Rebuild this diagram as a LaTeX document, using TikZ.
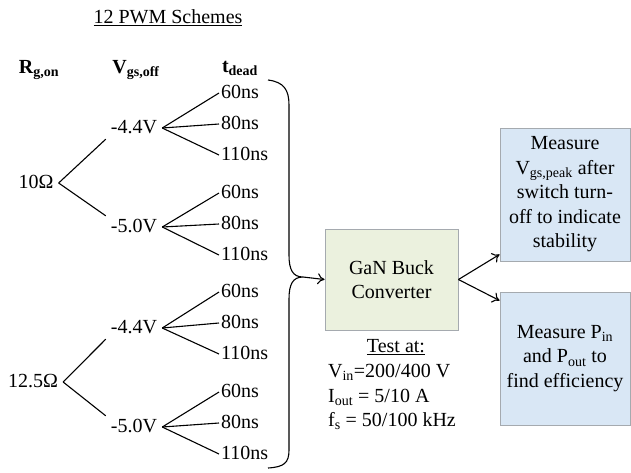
\documentclass[tikz,border=0pt]{standalone}
\usepackage{fontspec}
\setmainfont{Liberation Serif}
\usetikzlibrary{positioning,arrows.meta}

\definecolor{boxgreen}{RGB}{235,241,222}
\definecolor{boxblue}{RGB}{217,231,245}
\definecolor{boxline}{RGB}{165,170,175}

\begin{document}
\begin{tikzpicture}[x=1pt,y=-1pt,
        font=\fontsize{20}{24.5}\selectfont,
        lbl/.style={inner sep=2pt, text height=14pt, text depth=4pt},
        branch/.style={line width=1.1pt},
        box/.style={draw=boxline, line width=0.9pt, align=center, inner sep=0pt},
        >={To[length=7pt,width=11pt]}]
        \useasboundingbox (0,0) rectangle (631,472);

        % Title and column heads
        \node (title) at (168,18) {\underline{12 PWM Schemes}};
        \node[lbl] (hR) at (39,68) {\textbf{R\textsubscript{g,on}}};
        \node[lbl] (hV) at (136,68) {\textbf{V\textsubscript{gs,off}}};
        \node[lbl] (hT) at (240,67) {\textbf{t\textsubscript{dead}}};

        % Gate resistances
        \node[lbl] (rA) at (36,183) {10Ω};
        \node[lbl] (rB) at (33,382) {12.5Ω};

        % Turn-off voltages
        \node[lbl] (v1) at (134,128) {-4.4V};
        \node[lbl] (v2) at (134,227) {-5.0V};
        \node[lbl] (v3) at (134,328) {-4.4V};
        \node[lbl] (v4) at (134,427) {-5.0V};

        % Dead times
        \foreach \v/\y in {1/93,2/193,3/292,4/392} {
            \node[lbl, anchor=west] (t\v a) at (219,\y) {60ns};
            \node[lbl, anchor=west] (t\v b) at (219,\y+31) {80ns};
            \node[lbl, anchor=west] (t\v c) at (219,\y+62) {110ns};
            \draw[branch] ([xshift=3pt]v\v.east) -- (t\v a.west);
            \draw[branch] ([xshift=3pt]v\v.east) -- (t\v b.west);
            \draw[branch] ([xshift=3pt]v\v.east) -- (t\v c.west);
        }

        % Branches from resistances
        \draw[branch] ([xshift=3pt]rA.east) -- ([xshift=-3pt]v1.south west);
        \draw[branch] ([xshift=3pt]rA.east) -- ([xshift=-3pt]v2.north west);
        \draw[branch] ([xshift=3pt]rB.east) -- ([xshift=-3pt]v3.south west);
        \draw[branch] ([xshift=3pt]rB.east) -- ([xshift=-3pt]v4.north west);

        % Brace round all schemes
        \coordinate (tip) at (303,277);
        \draw[branch] (268,80) .. controls (284,82) and (289,90) .. (289,105)
            -- (289,255) .. controls (289,270) and (293,277) .. (tip)
            .. controls (293,277) and (289,284) .. (289,299)
            -- (289,450) .. controls (289,463) and (284,467) .. (268,468);

        % Converter and measurements
        \node[box, fill=boxgreen, minimum width=133, minimum height=101] (gan) at (391.5,279.5) {GaN Buck\\Converter};
        \node[box, fill=boxblue, minimum width=130, minimum height=133] (m1) at (565,194.5)
            {Measure\\V\textsubscript{gs,peak} after\\switch turn-\\off to indicate\\stability};
        \node[box, fill=boxblue, minimum width=130, minimum height=133] (m2) at (565,358.5)
            {Measure P\textsubscript{in}\\and P\textsubscript{out} to\\find efficiency};

        % Test conditions
        \node (testhead) at (396,347) {\underline{Test at:}};
        \node[align=left] (testvals) at (392,397)
            {V\textsubscript{in}=200/400 V\\I\textsubscript{out} = 5/10 A\\f\textsubscript{s} = 50/100 kHz};

        % Arrows
        \draw[branch, ->] (tip) -- (gan.west);
        \draw[branch, ->] (gan.east) -- ([yshift=7pt]m1.south west);
        \draw[branch, ->] (gan.east) -- ([yshift=-9pt]m2.north west);

\end{tikzpicture}
\end{document}
